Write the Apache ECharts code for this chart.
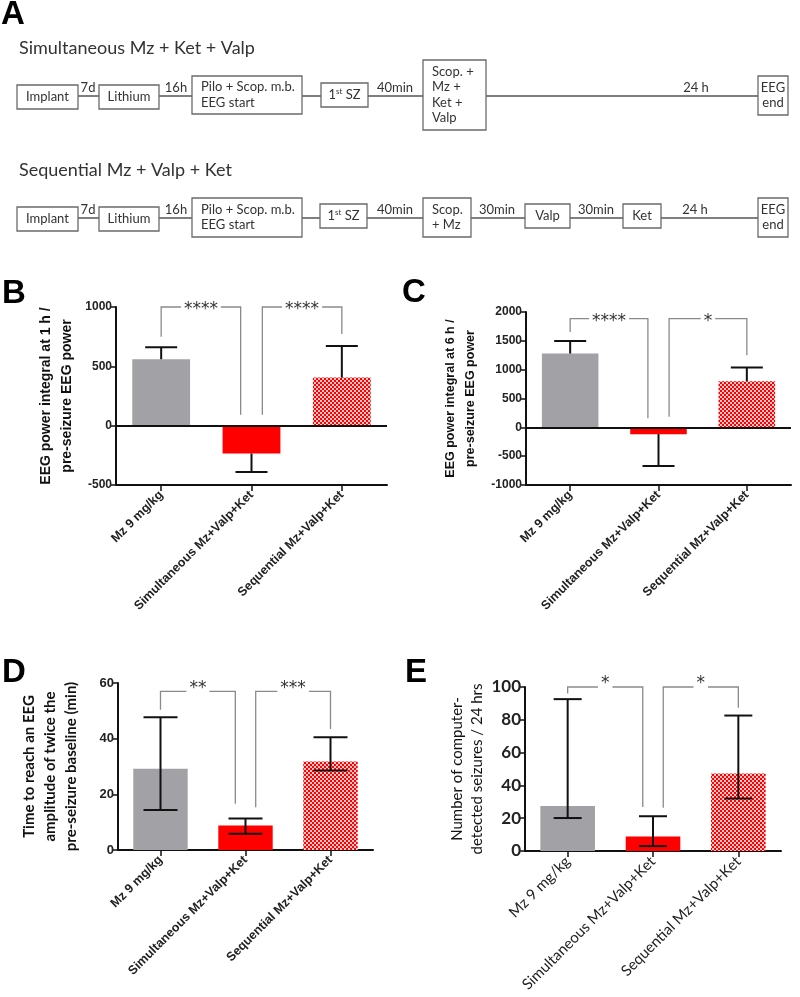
<!DOCTYPE html>
<html>
<head>
<meta charset="utf-8">
<script src="https://cdn.jsdelivr.net/npm/echarts@6/dist/echarts.min.js"></script>
<style>
  html, body { margin: 0; padding: 0; background: #fff; }
  #main { width: 800px; height: 997px; }
</style>
</head>
<body>
<div id="main"></div>
<script>
const categories = ['Mz 9 mg/kg', 'Simultaneous Mz+Valp+Ket', 'Sequential Mz+Valp+Ket'];

// B: EEG power integral at 1 h (mean and end of error bar)
const bMean = [560, -235, 405];
const bErr = [660, -390, 672];
// [from, to, bracket top, left leg end, right leg end, label]
const bSig = [[0, 1, 1000, 750, 92, '****'], [1, 2, 1000, 92, 772, '****']];

// C: EEG power integral at 6 h
const cMean = [1280, -118, 800];
const cErr = [1495, -672, 1038];
const cSig = [[0, 1, 1885, 1654, 156, '****'], [1, 2, 1885, 183, 1251, '*']];

// D: time to reach twice baseline amplitude (median, range)
const dMid = [29.2, 8.8, 31.8];
const dLow = [14.4, 5.8, 28.6];
const dHigh = [47.7, 11.3, 40.5];
const dSig = [[0, 1, 57, 50.4, 16.6, '**'], [1, 2, 57, 15.4, 43.5, '***']];

// E: number of detected seizures / 24 hrs
const eMid = [27.5, 8.8, 47.2];
const eLow = [20.1, 3.0, 32.0];
const eHigh = [92.6, 21.2, 82.6];
const eSig = [[0, 1, 100, 96, 26.8, '*'], [1, 2, 100, 26.4, 87.4, '*']];

const ARIAL = '"Liberation Sans", Arial, sans-serif';
const CALIBRI = 'Lato, "Open Sans", sans-serif';

// red / white checker used for the sequential group
const pat = document.createElement('canvas');
pat.width = 4; pat.height = 4;
const pctx = pat.getContext('2d');
pctx.fillStyle = '#ff0000';
pctx.fillRect(0, 0, 4, 4);
pctx.fillStyle = '#ffc8c8';
pctx.fillRect(0, 0, 2, 2);
pctx.fillRect(2, 2, 2, 2);

const barColors = ['#a2a2a6', '#ff0000', { image: pat, repeat: 'repeat' }];

function errRender(capW, both) {
  return function (params, api) {
    const i = api.value(0);
    const p1 = api.coord([i, api.value(1)]);
    const p2 = api.coord([i, api.value(2)]);
    const st = { stroke: '#111', lineWidth: 2 };
    const ch = [
      { type: 'line', shape: { x1: p1[0], y1: p1[1], x2: p2[0], y2: p2[1] }, style: st },
      { type: 'line', shape: { x1: p2[0] - capW / 2, y1: p2[1], x2: p2[0] + capW / 2, y2: p2[1] }, style: st }
    ];
    if (both) {
      ch.push({ type: 'line', shape: { x1: p1[0] - capW / 2, y1: p1[1], x2: p1[0] + capW / 2, y2: p1[1] }, style: st });
    }
    return { type: 'group', children: ch };
  };
}

function sigRender(list, font, dy) {
  return function (params, api) {
    const s = list[params.dataIndex];
    const band = api.size([1, 0])[0];
    const inset = band * 0.12;
    const xl = api.coord([s[0], s[2]])[0] + (s[0] === 1 ? inset : 0);
    const xr = api.coord([s[1], s[2]])[0] - (s[1] === 1 ? inset : 0);
    const yt = api.coord([s[0], s[2]])[1];
    const yl = api.coord([s[0], s[3]])[1];
    const yr = api.coord([s[1], s[4]])[1];
    return {
      type: 'group',
      children: [
        { type: 'polyline', shape: { points: [[xl, yl], [xl, yt], [xr, yt], [xr, yr]] },
          style: { stroke: '#8a8a8a', lineWidth: 1.3, fill: null } },
        { type: 'text', x: (xl + xr) / 2, y: yt + dy,
          style: { text: s[5], font: font, fill: '#333', align: 'center', verticalAlign: 'middle',
                   textAlign: 'center', textVerticalAlign: 'middle', backgroundColor: '#fff', padding: [0, 3] } }
      ]
    };
  };
}

const panels = [
  { grid: { left: 116, top: 307, width: 271, height: 178 },
    min: -500, max: 1000, interval: 500, zero: true,
    mid: bMean, err: bMean.map((v, i) => [i, v, bErr[i]]), both: false, cap: 32, sig: bSig, sigDy: 3,
    name: 'EEG power integral at 1 h /\npre-seizure EEG power', nameGap: 38,
    nameStyle: { fontFamily: ARIAL, fontWeight: 'bold', fontSize: 14, lineHeight: 21, color: '#111' },
    tickFont: { fontFamily: ARIAL, fontWeight: 'bold', fontSize: 12, color: '#222' },
    catFont: { fontFamily: ARIAL, fontWeight: 'bold', fontSize: 12.5, color: '#222' },
    starFont: '17px "DejaVu Sans", sans-serif' },
  { grid: { left: 526, top: 312, width: 265, height: 173 },
    min: -1000, max: 2000, interval: 500, zero: true,
    mid: cMean, err: cMean.map((v, i) => [i, v, cErr[i]]), both: false, cap: 32, sig: cSig, sigDy: 3,
    name: 'EEG power integral at 6 h /\npre-seizure EEG power', nameGap: 45,
    nameStyle: { fontFamily: ARIAL, fontWeight: 'bold', fontSize: 12.5, lineHeight: 20, color: '#111' },
    tickFont: { fontFamily: ARIAL, fontWeight: 'bold', fontSize: 12, color: '#222' },
    catFont: { fontFamily: ARIAL, fontWeight: 'bold', fontSize: 12.5, color: '#222' },
    starFont: '17px "DejaVu Sans", sans-serif' },
  { grid: { left: 118, top: 683, width: 255, height: 167 },
    min: 0, max: 60, interval: 20, zero: false,
    mid: dMid, err: dMid.map((v, i) => [i, dLow[i], dHigh[i]]), both: true, cap: 34, sig: dSig, sigDy: -3,
    name: 'Time to reach an EEG\namplitude of twice the\npre-seizure baseline (min)', nameGap: 36,
    nameStyle: { fontFamily: CALIBRI, fontWeight: 'bold', fontSize: 15, lineHeight: 21, color: '#111' },
    tickFont: { fontFamily: ARIAL, fontWeight: 'bold', fontSize: 13, color: '#222' },
    catFont: { fontFamily: ARIAL, fontWeight: 'bold', fontSize: 12.5, color: '#222' },
    starFont: '17px "DejaVu Sans", sans-serif' },
  { grid: { left: 525, top: 687, width: 256, height: 164 },
    min: 0, max: 100, interval: 20, zero: false,
    mid: eMid, err: eMid.map((v, i) => [i, eLow[i], eHigh[i]]), both: true, cap: 28, sig: eSig, sigDy: -3,
    name: 'Number of computer-\ndetected seizures / 24 hrs', nameGap: 31,
    nameStyle: { fontFamily: CALIBRI, fontWeight: 'normal', fontSize: 15, lineHeight: 20, color: '#111' },
    tickFont: { fontFamily: CALIBRI, fontWeight: 'bold', fontSize: 17, color: '#222' },
    catFont: { fontFamily: CALIBRI, fontWeight: 'normal', fontSize: 15, color: '#222' },
    starFont: '17px "DejaVu Sans", sans-serif' }
];

const axisLine = { color: '#111', width: 2 };
const grids = [], xAxes = [], yAxes = [], series = [];

panels.forEach((p, k) => {
  grids.push(p.grid);
  xAxes.push({
    gridIndex: k, type: 'category', data: categories,
    axisLine: { show: true, onZero: false, lineStyle: axisLine },
    axisTick: { show: true, alignWithLabel: true, length: 6, lineStyle: { color: '#111', width: 1.5 } },
    axisLabel: Object.assign({ rotate: 45, interval: 0, margin: 8 }, p.catFont),
    splitLine: { show: false }
  });
  yAxes.push({
    gridIndex: k, type: 'value', min: p.min, max: p.max, interval: p.interval,
    axisLine: { show: true, lineStyle: axisLine },
    axisTick: { show: true, length: 5, lineStyle: { color: '#111', width: 1.5 } },
    axisLabel: Object.assign({ margin: 4, formatter: v => String(v) }, p.tickFont),
    splitLine: { show: false },
    name: p.name, nameLocation: 'middle', nameRotate: 90, nameGap: p.nameGap,
    nameTextStyle: p.nameStyle
  });
  const bar = {
    type: 'bar', xAxisIndex: k, yAxisIndex: k, barWidth: '64%', z: 2,
    data: p.mid.map((v, i) => ({ value: v, itemStyle: { color: barColors[i] } }))
  };
  if (p.zero) {
    bar.markLine = {
      silent: true, symbol: 'none', label: { show: false },
      lineStyle: { color: '#111', width: 2, type: 'solid' },
      data: [{ yAxis: 0 }]
    };
  }
  series.push(bar);
  series.push({
    type: 'custom', xAxisIndex: k, yAxisIndex: k, z: 4,
    renderItem: errRender(p.cap, p.both), data: p.err
  });
  series.push({
    type: 'custom', xAxisIndex: k, yAxisIndex: k, z: 5,
    renderItem: sigRender(p.sig, p.starFont, p.sigDy),
    data: p.sig.map(s => [s[0], s[2]])
  });
});

// ---- panel A: protocol timelines ----
const boxStyle = { fill: '#fff', stroke: '#6a6a6a', lineWidth: 1.3 };
const txt = { font: '13px ' + CALIBRI, fill: '#333' };
const gfx = [];

function label(x, y, text, align, extra) {
  gfx.push({
    type: 'text', x: x, y: y, z: 20,
    style: Object.assign({ text: text, align: align, verticalAlign: 'middle',
      textAlign: align, textVerticalAlign: 'middle' }, txt, extra || {})
  });
}
function box(x, y, w, h, text, align, tx) {
  gfx.push({ type: 'rect', shape: { x: x, y: y, width: w, height: h }, style: boxStyle, z: 10 });
  if (align === 'left') label(tx, y + h / 2, text, 'left', { lineHeight: 15.5 });
  else label(x + w / 2, y + h / 2, text, 'center', { lineHeight: 15 });
}
function szBox(x, y, w, h) {
  gfx.push({ type: 'rect', shape: { x: x, y: y, width: w, height: h }, style: boxStyle, z: 10 });
  gfx.push({
    type: 'text', x: x + w / 2, y: y + h / 2, z: 20,
    style: { text: '{a|1}{s|st}{a| SZ}', align: 'center', verticalAlign: 'middle',
      textAlign: 'center', textVerticalAlign: 'middle',
      rich: { a: { font: '13px ' + CALIBRI, fill: '#333', color: '#333', lineHeight: 16 },
              s: { font: '8px ' + CALIBRI, fill: '#333', color: '#333', lineHeight: 16, verticalAlign: 'top' } } }
  });
}
function line(x1, x2, y) {
  gfx.push({ type: 'line', shape: { x1: x1, y1: y, x2: x2, y2: y }, style: { stroke: '#555', lineWidth: 1.3 }, z: 5 });
}

// panel letters
[['A', 1, 15], ['B', 2, 294], ['C', 402, 293], ['D', 2, 673], ['E', 405, 673]].forEach(l => {
  gfx.push({ type: 'text', x: l[1], y: l[2], z: 20,
    style: { text: l[0], font: 'bold 33px ' + ARIAL, fill: '#000', align: 'left', verticalAlign: 'middle',
      textAlign: 'left', textVerticalAlign: 'middle' } });
});

label(19, 48, 'Simultaneous Mz + Ket + Valp', 'left', { font: '18px ' + CALIBRI });
line(78, 758, 96);
box(17, 85, 61, 24, 'Implant');
box(99, 85, 60, 24, 'Lithium');
box(192, 76, 110, 38, 'Pilo + Scop. m.b.\nEEG start', 'left', 201);
szBox(321, 83, 47, 24);
box(423, 60, 63, 70, 'Scop. +\nMz +\nKet +\nValp', 'left', 432);
box(758, 76, 30, 39, 'EEG\nend');
label(88, 88, '7d', 'center');
label(176, 88, '16h', 'center');
label(395, 88, '40min', 'center');
label(696, 88, '24 h', 'center');

label(19, 170, 'Sequential Mz + Valp + Ket', 'left', { font: '18px ' + CALIBRI });
line(78, 758, 218);
box(17, 207, 61, 24, 'Implant');
box(99, 207, 60, 24, 'Lithium');
box(192, 198, 110, 39, 'Pilo + Scop. m.b.\nEEG start', 'left', 201);
szBox(320, 204, 47, 24);
box(423, 198, 48, 39, 'Scop.\n+ Mz', 'left', 432);
box(525, 204, 45, 24, 'Valp');
box(623, 204, 38, 24, 'Ket');
box(758, 198, 30, 39, 'EEG\nend');
label(88, 210, '7d', 'center');
label(176, 210, '16h', 'center');
label(395, 210, '40min', 'center');
label(497, 210, '30min', 'center');
label(596, 210, '30min', 'center');
label(695, 210, '24 h', 'center');

const chart = echarts.init(document.getElementById('main'), null, { renderer: 'canvas' });
chart.setOption({
  animation: false,
  backgroundColor: '#fff',
  grid: grids,
  xAxis: xAxes,
  yAxis: yAxes,
  series: series,
  graphic: { elements: gfx }
});
</script>
</body>
</html>
